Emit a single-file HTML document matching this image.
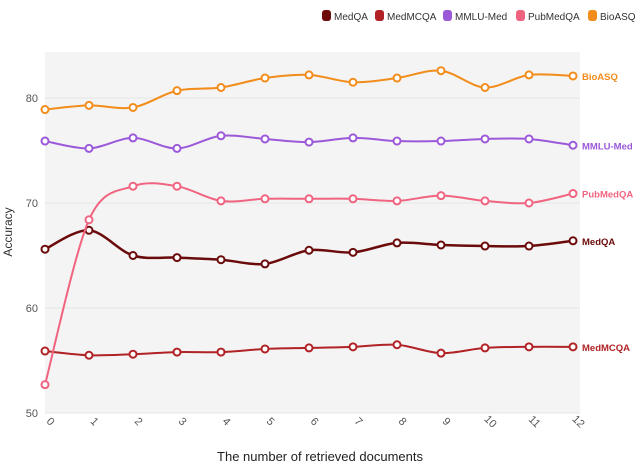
<!DOCTYPE html>
<html><head><meta charset="utf-8"><style>
body{margin:0;background:#fff;font-family:"Liberation Sans",sans-serif}
svg text{font-family:"Liberation Sans",sans-serif}
</style></head><body>
<svg id="chart" width="640" height="466" viewBox="0 0 640 466">
<rect x="45" y="52" width="535" height="361" fill="#f4f4f4"/>
<g id="grid"></g><g id="series"></g><g id="axes"></g>
<g id="legend"></g>
<text x="320" y="461" text-anchor="middle" font-size="13" fill="#222">The number of retrieved documents</text>
<text transform="translate(12,232) rotate(-90)" text-anchor="middle" font-size="12" fill="#333">Accuracy</text>
</svg>
<script>
const categories=[0,1,2,3,4,5,6,7,8,9,10,11,12];
const seriesNames=["MedQA","MedMCQA","MMLU-Med","PubMedQA","BioASQ"];
const medqa=[65.6,67.4,65.0,64.8,64.6,64.2,65.5,65.3,66.2,66.0,65.9,65.9,66.4];
const medmcqa=[55.9,55.5,55.6,55.8,55.8,56.1,56.2,56.3,56.5,55.7,56.2,56.3,56.3];
const mmlu=[75.9,75.2,76.2,75.2,76.4,76.1,75.8,76.2,75.9,75.9,76.1,76.1,75.5];
const pubmedqa=[52.7,68.4,71.6,71.6,70.2,70.4,70.4,70.4,70.2,70.7,70.2,70.0,70.9];
const bioasq=[78.9,79.3,79.1,80.7,81.0,81.9,82.2,81.5,81.9,82.6,81.0,82.2,82.1];
const yTicks=[50,60,70,80];
const colors=["#6b0a0a","#b02226","#9b59d9","#f06480","#f28c1a"];
const NS="http://www.w3.org/2000/svg";
const X=v=>45+v*(528/12), Y=v=>413-(v-50)*10.5;
function mk(t,a,p){const e=document.createElementNS(NS,t);for(const k in a)e.setAttribute(k,a[k]);p.appendChild(e);return e;}
const grid=document.getElementById('grid'),axes=document.getElementById('axes'),ser=document.getElementById('series'),leg=document.getElementById('legend');
yTicks.forEach(t=>{
 const l=mk('line',{x1:45,x2:580,y1:Y(t),y2:Y(t),stroke:'#e6e6e6'},grid);
 
 const tx=mk('text',{x:38,y:Y(t)+4,'text-anchor':'end','font-size':11,fill:'#555'},axes);tx.textContent=t;
 
});
categories.forEach(c=>{
 const tx=mk('text',{transform:`translate(${X(c)+3},${424}) rotate(45)`,'font-size':11,fill:'#555','text-anchor':'middle'},axes);tx.textContent=c;
 
});
function path(pts){let d=`M${pts[0][0]},${pts[0][1]}`;for(let i=0;i<pts.length-1;i++){const p0=pts[i-1]||pts[i],p1=pts[i],p2=pts[i+1],p3=pts[i+2]||p2;const t=0.16;d+=` C${p1[0]+(p2[0]-p0[0])*t},${p1[1]+(p2[1]-p0[1])*t} ${p2[0]-(p3[0]-p1[0])*t},${p2[1]-(p3[1]-p1[1])*t} ${p2[0]},${p2[1]}`;}return d;}
const data=[medqa,medmcqa,mmlu,pubmedqa,bioasq];
data.forEach((vals,si)=>{
 const g=mk('g',{},ser);
 const pts=vals.map((v,i)=>[X(categories[i]),Y(v)]);
 const p=mk('path',{d:path(pts),fill:'none',stroke:colors[si],'stroke-width':si==0?2.5:2},g);
 
 pts.forEach((q,i)=>{const c=mk('circle',{cx:q[0],cy:q[1],r:3.5,fill:'#fff',stroke:colors[si],'stroke-width':2},g);
  });
 const lb=mk('text',{x:582,y:pts[12][1]+4,'font-size':9.5,'font-weight':'bold',fill:colors[si]},g);lb.textContent=seriesNames[si];
 
});
const lx=[322,375,443,516,588];
seriesNames.forEach((n,i)=>{
 const r=mk('rect',{x:lx[i],y:10,width:9,height:11,rx:3,fill:colors[i]},leg);
 
 const t=mk('text',{x:lx[i]+12,y:20,'font-size':10,fill:'#333'},leg);t.textContent=n;
 
});
</script>
</body></html>
